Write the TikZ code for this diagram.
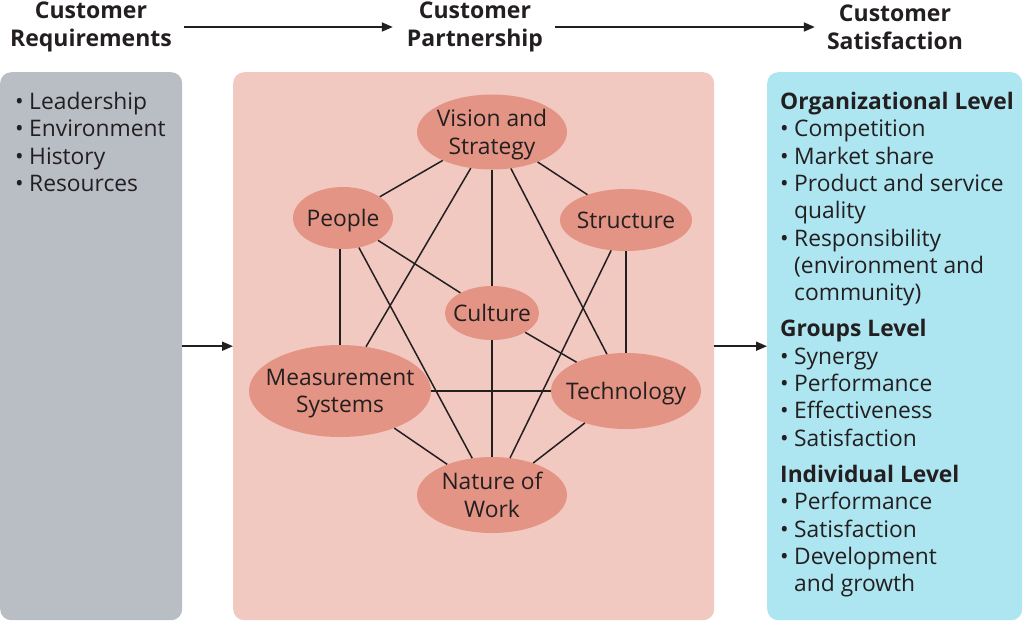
\documentclass[tikz,border=0pt]{standalone}
\usepackage{fontspec}
\setmainfont{Open Sans}
\usetikzlibrary{shapes.geometric,arrows.meta}
\definecolor{txt}{HTML}{231F20}
\definecolor{graypanel}{HTML}{B9BEC5}
\definecolor{pinkpanel}{HTML}{F2C9C1}
\definecolor{cyanpanel}{HTML}{ADE6F1}
\definecolor{ellfill}{HTML}{E49484}
\tikzset{
  panel/.style={rectangle, rounded corners=11pt, draw=none, anchor=north west, minimum height=548pt, inner sep=0pt},
  oval/.style={ellipse, fill=ellfill, draw=none, inner sep=-14pt, align=center, text=txt, text depth=-3pt, font=\fontsize{22.8}{27.5}\selectfont},
  edge/.style={draw=txt, line width=1.5pt},
  flow/.style={draw=txt, line width=1.8pt, -{Triangle[length=11pt,width=9pt]}},
  head/.style={align=center, text=txt, font=\fontsize{23}{28}\selectfont\bfseries, inner sep=0pt},
  listtext/.style={align=left, text=txt, anchor=north west, inner sep=0pt, font=\fontsize{22.8}{27.3}\selectfont}
}
\newcommand{\bul}{\makebox[14pt][l]{•}}
\newcommand{\ind}{\hspace*{14pt}}
\begin{document}
\begin{tikzpicture}[x=1pt,y=-1pt]
\useasboundingbox (0,0) rectangle (1024,622);
% headers
\node[head] (hreq) at (91,27) {Customer\\Requirements};
\node[head] (hpart) at (475,27) {Customer\\Partnership};
\node[head] (hsat) at (895,27) {Customer\\Satisfaction};
\draw[flow, shorten <=12pt, shorten >=14pt] (hreq) -- (hpart);
\draw[flow, shorten <=12pt, shorten >=12pt] (hpart) -- (hsat);
% panels
\node[panel, fill=graypanel, minimum width=182pt] (req) at (0,72) {};
\node[panel, fill=pinkpanel, minimum width=481pt] (part) at (233,72) {};
\node[panel, fill=cyanpanel, minimum width=255pt] (sat) at (767,72) {};
\draw[flow] (req.east) -- (part.west);
\draw[flow] (part.east) -- (sat.west);
% left list
\node[listtext] (reqlist) at (15,92) {\bul Leadership\\\bul Environment\\\bul History\\\bul Resources};
% right list
\node[listtext] (satlist) at (780,92) {\textbf{Organizational Level}\\
\bul Competition\\
\bul Market share\\
\bul Product and service\\
\ind quality\\
\bul Responsibility\\
\ind (environment and\\
\ind community)\\[9pt]
\textbf{Groups Level}\\
\bul Synergy\\
\bul Performance\\
\bul Effectiveness\\
\bul Satisfaction\\[9pt]
\textbf{Individual Level}\\
\bul Performance\\
\bul Satisfaction\\
\bul Development\\
\ind and growth};
% ovals
\node[oval, minimum width=150pt, minimum height=75pt] (V) at (492,132) {Vision and\\Strategy};
\node[oval, minimum width=100pt, minimum height=62pt] (P) at (343,218) {People};
\node[oval, minimum width=132pt, minimum height=62pt] (S) at (626,220) {Structure};
\node[oval, minimum width=94pt, minimum height=54pt] (C) at (492,313) {Culture};
\node[oval, minimum width=182pt, minimum height=92pt] (M) at (340,391) {Measurement\\Systems};
\node[oval, minimum width=150pt, minimum height=76pt] (T) at (626,391) {Technology};
\node[oval, minimum width=150pt, minimum height=76pt] (N) at (492,495) {Nature of\\Work};
% connectors
\draw[edge] (V) -- (P);
\draw[edge] (V) -- (S);
\draw[edge] (V) -- (C);
\draw[edge] (V) -- (M);
\draw[edge] (V) -- (T);
\draw[edge] (P.south -| M.north) -- (M.north);
\draw[edge] (P) -- (N);
\draw[edge] (P) -- (C);
\draw[edge] (S) -- (N);
\draw[edge] (S) -- (T);
\draw[edge] (C) -- (T);
\draw[edge] (C) -- (N);
\draw[edge] (M) -- (T);
\draw[edge] (M) -- (N);
\draw[edge] (T) -- (N);
\end{tikzpicture}
\end{document}
